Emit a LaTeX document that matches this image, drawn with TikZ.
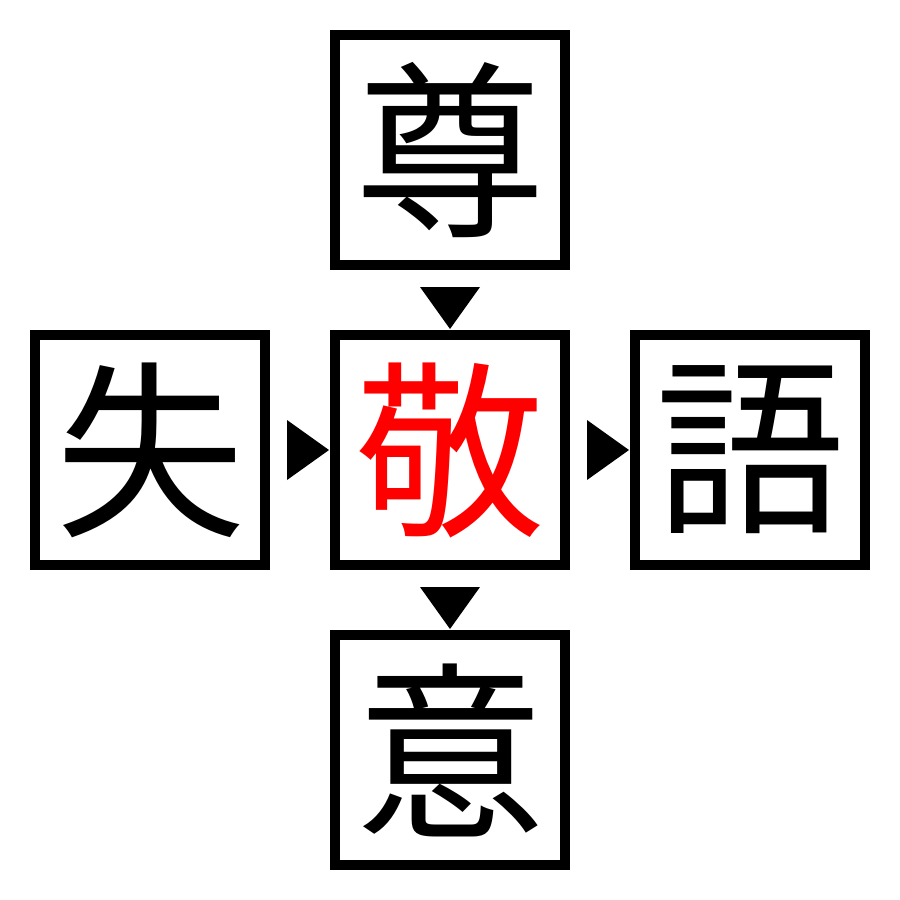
\documentclass[tikz,border=0pt]{standalone}
\usepackage{fontspec}
\newfontfamily\cjk{Noto Sans CJK JP}
\usetikzlibrary{calc}
\definecolor{kred}{RGB}{255,0,0}
\begin{document}
\begin{tikzpicture}[x=1pt,y=-1pt,
  box/.style={draw=black, line width=10pt, minimum size=230pt, inner sep=0pt,
    font=\cjk\fontsize{190}{190}\selectfont},
  tri/.style={fill=black}]
\useasboundingbox (0,0) rectangle (900,900);
\fill[white] (0,0) rectangle (900,900);
\node[box] (top) at (450,150) {尊};
\node[box] (left) at (150,450) {失};
\node[box, text=kred] (center) at (450,450) {敬};
\node[box] (right) at (750,450) {語};
\node[box] (bottom) at (450,750) {意};
\fill[tri] ($(top.south)+(-30,17)$) -- ($(top.south)+(30,17)$) -- ($(top.south)+(0,59)$) -- cycle;
\fill[tri] ($(center.south)+(-30,17)$) -- ($(center.south)+(30,17)$) -- ($(center.south)+(0,59)$) -- cycle;
\fill[tri] ($(left.east)+(17,-30)$) -- ($(left.east)+(17,30)$) -- ($(left.east)+(59,0)$) -- cycle;
\fill[tri] ($(center.east)+(17,-30)$) -- ($(center.east)+(17,30)$) -- ($(center.east)+(59,0)$) -- cycle;
\end{tikzpicture}
\end{document}
